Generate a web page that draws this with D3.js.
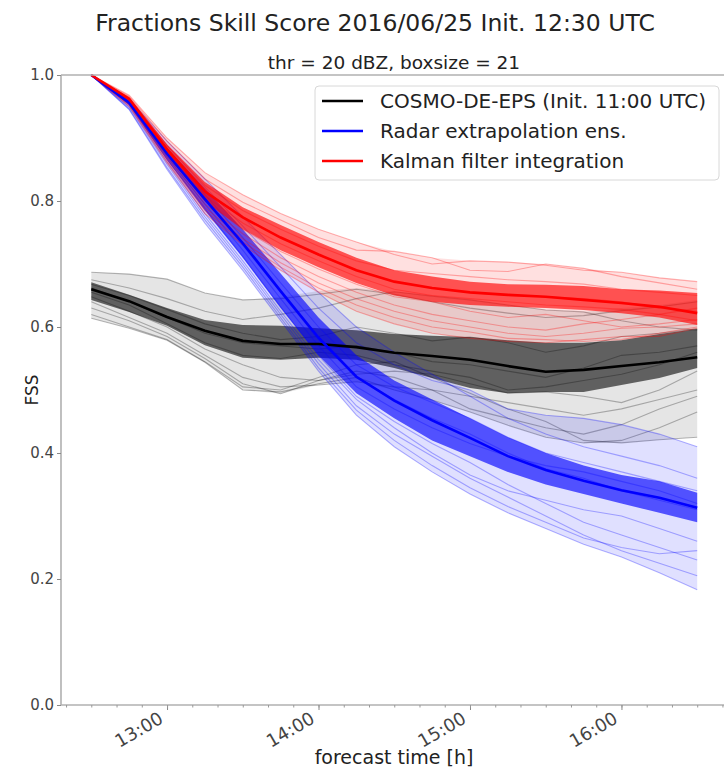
<!DOCTYPE html>
<html><head><meta charset="utf-8">
<script src="https://cdn.jsdelivr.net/npm/d3@7"></script>
<style>body{margin:0;background:#fff}svg{display:block;font-family:"DejaVu Sans",sans-serif}</style>
</head><body><svg id="c" width="724" height="768"></svg>
<script>
const times = ["12:30","12:45","13:00","13:15","13:30","13:45","14:00","14:15","14:30","14:45","15:00","15:15","15:30","15:45","16:00","16:15","16:30"];
const xTickLabels = ["13:00","14:00","15:00","16:00"];
const yTicks = [0.0,0.2,0.4,0.6,0.8,1.0];
const legendLabels = ["COSMO-DE-EPS (Init. 11:00 UTC)","Radar extrapolation ens.","Kalman filter integration"];

// COSMO-DE-EPS
const cosmoMedian = [0.660,0.641,0.616,0.594,0.578,0.573,0.573,0.568,0.559,0.554,0.548,0.538,0.529,0.532,0.538,0.544,0.552];
const cosmoInnerHi = [0.671,0.651,0.630,0.611,0.603,0.602,0.598,0.595,0.589,0.586,0.584,0.579,0.575,0.575,0.579,0.589,0.597];
const cosmoInnerLo = [0.643,0.624,0.602,0.571,0.551,0.548,0.551,0.548,0.535,0.519,0.503,0.495,0.497,0.497,0.508,0.519,0.535];
const cosmoOuterHi = [0.687,0.684,0.676,0.654,0.643,0.648,0.657,0.662,0.656,0.649,0.643,0.635,0.627,0.624,0.630,0.635,0.643];
const cosmoOuterLo = [0.614,0.598,0.579,0.544,0.500,0.494,0.508,0.513,0.500,0.484,0.465,0.444,0.425,0.416,0.416,0.421,0.425];
const cosmoMembers = [
 [0.687,0.684,0.676,0.654,0.643,0.645,0.652,0.660,0.652,0.640,0.630,0.622,0.615,0.618,0.626,0.632,0.640],
 [0.675,0.662,0.645,0.625,0.612,0.620,0.630,0.645,0.656,0.649,0.643,0.635,0.627,0.624,0.610,0.600,0.595],
 [0.668,0.650,0.628,0.605,0.590,0.580,0.585,0.600,0.590,0.578,0.584,0.575,0.560,0.570,0.585,0.590,0.597],
 [0.662,0.640,0.615,0.590,0.575,0.570,0.565,0.570,0.560,0.545,0.540,0.530,0.520,0.535,0.555,0.560,0.570],
 [0.655,0.635,0.605,0.575,0.555,0.550,0.560,0.555,0.540,0.530,0.520,0.500,0.505,0.515,0.525,0.540,0.560],
 [0.648,0.625,0.600,0.565,0.540,0.520,0.515,0.525,0.530,0.525,0.510,0.495,0.497,0.490,0.480,0.500,0.530],
 [0.640,0.615,0.590,0.555,0.520,0.505,0.508,0.513,0.505,0.500,0.490,0.480,0.470,0.460,0.470,0.485,0.500],
 [0.630,0.610,0.585,0.550,0.510,0.494,0.515,0.530,0.520,0.500,0.470,0.455,0.440,0.430,0.445,0.470,0.490],
 [0.620,0.600,0.580,0.545,0.505,0.500,0.520,0.540,0.545,0.520,0.495,0.470,0.450,0.420,0.416,0.421,0.425],
 [0.614,0.598,0.579,0.544,0.500,0.497,0.510,0.520,0.500,0.484,0.465,0.444,0.425,0.416,0.420,0.440,0.465]
];

// Radar extrapolation ensemble
const radarMedian = [1.0,0.956,0.875,0.803,0.733,0.657,0.583,0.521,0.483,0.452,0.424,0.395,0.373,0.356,0.341,0.329,0.313];
const radarInnerHi = [1.0,0.960,0.885,0.820,0.755,0.685,0.615,0.555,0.515,0.485,0.455,0.425,0.400,0.380,0.365,0.355,0.337];
const radarInnerLo = [1.0,0.952,0.865,0.785,0.710,0.630,0.555,0.495,0.455,0.420,0.395,0.370,0.350,0.335,0.320,0.305,0.290];
const radarOuterHi = [1.0,0.962,0.895,0.835,0.775,0.715,0.655,0.600,0.560,0.525,0.500,0.470,0.460,0.455,0.445,0.430,0.410];
const radarOuterLo = [1.0,0.945,0.850,0.765,0.690,0.610,0.530,0.460,0.410,0.370,0.335,0.305,0.280,0.255,0.235,0.210,0.183];
const radarMembers = [
 [1.0,0.962,0.895,0.835,0.775,0.715,0.655,0.600,0.560,0.525,0.490,0.455,0.430,0.410,0.395,0.380,0.360],
 [1.0,0.960,0.888,0.822,0.760,0.695,0.630,0.575,0.540,0.515,0.500,0.470,0.460,0.455,0.445,0.430,0.410],
 [1.0,0.958,0.880,0.810,0.742,0.670,0.600,0.540,0.505,0.480,0.455,0.425,0.400,0.385,0.370,0.355,0.340],
 [1.0,0.956,0.875,0.802,0.730,0.655,0.580,0.520,0.485,0.455,0.430,0.400,0.375,0.360,0.340,0.325,0.310],
 [1.0,0.954,0.870,0.795,0.722,0.645,0.570,0.505,0.470,0.440,0.415,0.395,0.380,0.370,0.355,0.340,0.320],
 [1.0,0.953,0.866,0.788,0.712,0.632,0.555,0.490,0.450,0.415,0.385,0.350,0.320,0.290,0.270,0.250,0.230],
 [1.0,0.950,0.862,0.780,0.705,0.625,0.548,0.485,0.440,0.400,0.365,0.340,0.325,0.310,0.300,0.280,0.260],
 [1.0,0.948,0.858,0.775,0.700,0.620,0.542,0.475,0.430,0.395,0.360,0.330,0.300,0.270,0.245,0.225,0.205],
 [1.0,0.946,0.853,0.770,0.695,0.615,0.535,0.468,0.420,0.380,0.345,0.315,0.290,0.265,0.250,0.240,0.245],
 [1.0,0.945,0.850,0.765,0.690,0.610,0.530,0.460,0.410,0.370,0.335,0.305,0.280,0.255,0.235,0.210,0.183]
];

// Kalman filter integration
const kalmanMedian = [1.0,0.962,0.882,0.815,0.774,0.742,0.715,0.690,0.672,0.662,0.655,0.651,0.648,0.643,0.638,0.632,0.622];
const kalmanInnerHi = [1.0,0.965,0.890,0.830,0.790,0.762,0.735,0.710,0.690,0.680,0.672,0.668,0.667,0.665,0.660,0.658,0.654];
const kalmanInnerLo = [1.0,0.958,0.872,0.800,0.755,0.722,0.695,0.670,0.650,0.640,0.635,0.632,0.630,0.627,0.622,0.615,0.603];
const kalmanOuterHi = [1.0,0.968,0.900,0.845,0.810,0.780,0.755,0.735,0.720,0.710,0.705,0.703,0.700,0.693,0.687,0.678,0.672];
const kalmanOuterLo = [1.0,0.950,0.860,0.780,0.730,0.690,0.655,0.625,0.605,0.590,0.582,0.577,0.575,0.577,0.580,0.585,0.598];
const kalmanMembers = [
 [1.0,0.968,0.900,0.845,0.810,0.780,0.755,0.735,0.715,0.700,0.705,0.703,0.698,0.690,0.687,0.678,0.672],
 [1.0,0.966,0.895,0.835,0.798,0.770,0.742,0.722,0.720,0.710,0.690,0.688,0.700,0.693,0.680,0.670,0.660],
 [1.0,0.964,0.888,0.825,0.785,0.755,0.728,0.705,0.690,0.685,0.680,0.675,0.672,0.668,0.660,0.655,0.650],
 [1.0,0.962,0.882,0.815,0.775,0.742,0.714,0.690,0.672,0.662,0.655,0.650,0.648,0.645,0.640,0.630,0.625],
 [1.0,0.960,0.878,0.808,0.765,0.732,0.705,0.680,0.660,0.650,0.645,0.640,0.635,0.632,0.628,0.620,0.610],
 [1.0,0.958,0.874,0.800,0.755,0.720,0.692,0.668,0.648,0.640,0.625,0.615,0.620,0.610,0.600,0.605,0.612],
 [1.0,0.956,0.870,0.795,0.748,0.710,0.680,0.655,0.635,0.620,0.610,0.600,0.595,0.605,0.612,0.620,0.630],
 [1.0,0.954,0.866,0.790,0.740,0.702,0.670,0.645,0.625,0.610,0.600,0.590,0.585,0.590,0.598,0.600,0.605],
 [1.0,0.952,0.863,0.785,0.735,0.695,0.662,0.635,0.615,0.600,0.592,0.582,0.580,0.577,0.580,0.590,0.600],
 [1.0,0.950,0.860,0.780,0.730,0.690,0.655,0.625,0.605,0.590,0.582,0.577,0.575,0.580,0.585,0.585,0.598]
];

const parseT = s => { const [h,m] = s.split(":").map(Number); return new Date(2016,5,25,h,m); };
const T = times.map(parseT);

const svg = d3.select("#c");
const L = 61, R = 727.5, Tp = 75, B = 705;
const x = d3.scaleTime().domain([new Date(2016,5,25,12,18), new Date(2016,5,25,16,42)]).range([L,R]);
const y = d3.scaleLinear().domain([0,1]).range([B,Tp]);

const groups = [
  {median:cosmoMedian, ih:cosmoInnerHi, il:cosmoInnerLo, oh:cosmoOuterHi, ol:cosmoOuterLo, members:cosmoMembers, rgb:"0,0,0", line:"#000000", outerA:0.10, innerA:0.58, memA:0.28},
  {median:radarMedian, ih:radarInnerHi, il:radarInnerLo, oh:radarOuterHi, ol:radarOuterLo, members:radarMembers, rgb:"0,0,255", line:"#0000ff", outerA:0.12, innerA:0.64, memA:0.30},
  {median:kalmanMedian, ih:kalmanInnerHi, il:kalmanInnerLo, oh:kalmanOuterHi, ol:kalmanOuterLo, members:kalmanMembers, rgb:"255,0,0", line:"#ff0000", outerA:0.12, innerA:0.64, memA:0.30}
];

const area = (hi, lo) => d3.area().x((d,i)=>x(T[i])).y0((d,i)=>y(lo[i])).y1((d,i)=>y(hi[i]))(hi);
const line = d3.line().x((d,i)=>x(T[i])).y(d=>y(d));

const plot = svg.append("g");
groups.forEach(g => {
  plot.append("path").attr("d", area(g.oh, g.ol)).attr("fill", `rgba(${g.rgb},${g.outerA})`);
  g.members.forEach(m => plot.append("path").attr("d", line(m)).attr("fill","none")
     .attr("stroke", `rgba(${g.rgb},${g.memA})`).attr("stroke-width",1.1));
  plot.append("path").attr("d", area(g.ih, g.il)).attr("fill", `rgba(${g.rgb},${g.innerA})`);
});
groups.forEach(g => {
  plot.append("path").attr("d", line(g.median)).attr("fill","none").attr("stroke", g.line).attr("stroke-width",2.6);
});

// spines
const spineCol = "#b0b0b0";
svg.append("line").attr("x1",L).attr("x2",L).attr("y1",Tp).attr("y2",B).attr("stroke",spineCol).attr("stroke-width",1.6);
svg.append("line").attr("x1",L).attr("x2",R).attr("y1",B).attr("y2",B).attr("stroke",spineCol).attr("stroke-width",1.6);
svg.append("line").attr("x1",L).attr("x2",R).attr("y1",Tp).attr("y2",Tp).attr("stroke",spineCol).attr("stroke-width",1.6);
svg.append("line").attr("x1",R).attr("x2",R).attr("y1",Tp).attr("y2",B).attr("stroke",spineCol).attr("stroke-width",1.6);

// y axis
const yAx = svg.append("g").attr("transform",`translate(${L},0)`)
  .call(d3.axisLeft(y).tickValues(yTicks).tickFormat(d3.format(".1f")).tickSize(4).tickPadding(3));
yAx.select(".domain").remove();
yAx.selectAll("line").attr("stroke","#888");
yAx.selectAll("text").attr("font-size",15).attr("fill","#444").attr("font-family","DejaVu Sans");

// x axis major
const xTickDates = xTickLabels.map(parseT);
const xAx = svg.append("g").attr("transform",`translate(0,${B})`)
  .call(d3.axisBottom(x).tickValues(xTickDates).tickFormat(d3.timeFormat("%H:%M")).tickSize(5).tickPadding(4));
xAx.select(".domain").remove();
xAx.selectAll("line").attr("stroke","#888");
xAx.selectAll("text").attr("font-size",18).attr("fill","#444").attr("font-family","DejaVu Sans")
  .attr("text-anchor","end").attr("y",0).attr("dy",0)
  .attr("transform","translate(-3,17) rotate(-30)");
// minor ticks
const xMin = svg.append("g").attr("transform",`translate(0,${B})`)
  .call(d3.axisBottom(x).ticks(d3.timeMinute.every(10)).tickFormat("").tickSize(2.5));
xMin.select(".domain").remove();
xMin.selectAll("line").attr("stroke","#999");

// titles
svg.append("text").attr("x",375).attr("y",31).attr("text-anchor","middle").attr("font-size",23.5).attr("fill","#222")
  .text("Fractions Skill Score 2016/06/25 Init. 12:30 UTC");
svg.append("text").attr("x",394).attr("y",69).attr("text-anchor","middle").attr("font-size",18.5).attr("fill","#222")
  .text("thr = 20 dBZ, boxsize = 21");
svg.append("text").attr("transform","translate(38,390) rotate(-90)").attr("text-anchor","middle").attr("font-size",17).attr("fill","#222").text("FSS");
svg.append("text").attr("x",394).attr("y",764).attr("text-anchor","middle").attr("font-size",19).attr("fill","#222").text("forecast time [h]");

// legend
const lg = svg.append("g");
lg.append("rect").attr("x",315).attr("y",86).attr("width",404).attr("height",94).attr("rx",4)
  .attr("fill","rgba(255,255,255,0.85)").attr("stroke","#d8d8d8");
groups.forEach((g,i) => {
  const yy = 101 + i*30;
  lg.append("line").attr("x1",322).attr("x2",363).attr("y1",yy).attr("y2",yy).attr("stroke",g.line).attr("stroke-width",2.6);
  lg.append("text").attr("x",380).attr("y",yy+7).attr("font-size",20).attr("fill","#222").text(legendLabels[i]);
});
</script></body></html>
